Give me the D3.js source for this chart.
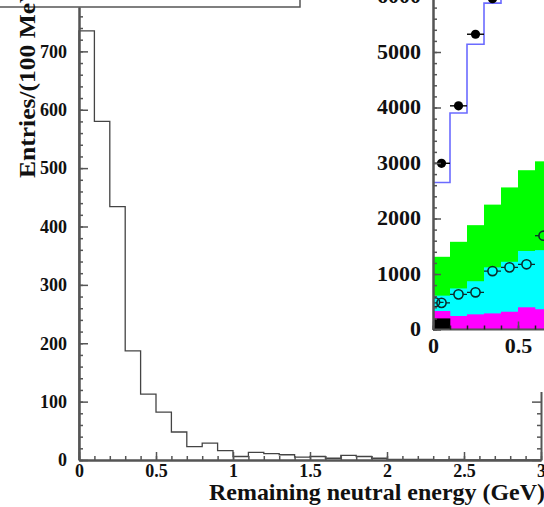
<!DOCTYPE html>
<html>
<head>
<meta charset="utf-8">
<script src="https://d3js.org/d3.v7.min.js"></script>
<style>
  html, body { margin: 0; padding: 0; background: #fff; }
  svg { display: block; }
  text { font-family: "Liberation Serif", "Times New Roman", serif; font-weight: bold; }
</style>
</head>
<body>
<svg id="chart" width="544" height="507"></svg>
<script>
// ---- Main histogram: remaining neutral energy, 0.1 GeV bins from 0 to 3 GeV ----
const mainBinEdges = d3.range(0, 31).map(i => i / 10);
const mainCounts = [735, 580, 434, 187, 113, 82, 48, 23, 29, 16,
                    6, 13, 11, 9, 5, 6, 3, 8, 6, 3,
                    1, 1, 1, 0, 1, 0, 0, 0, 0, 0];
const mainXTicks = [0, 0.5, 1, 1.5, 2, 2.5, 3];
const mainYTicks = [0, 100, 200, 300, 400, 500, 600, 700];

// ---- Inset: stacked components (cumulative tops), 0.1 GeV bins ----
const insetBinEdges = [0, 0.1, 0.2, 0.3, 0.4, 0.5, 0.6, 0.7];
const insetGreen   = [1310, 1580, 1880, 2250, 2560, 2870, 3030];
const insetCyan    = [610, 740, 870, 1120, 1220, 1415, 1430];
const insetMagenta = [333, 243, 273, 290, 320, 400, 365];
const insetBlack   = [200, 10, 10, 10, 10, 10, 10];
const insetBlueLine = [2650, 3900, 5140, 5880, 6400, 6800, 7000];
const dataX = [0.05, 0.15, 0.25, 0.35];
const dataY = [2995, 4030, 5320, 5960];
const openX = [0.012, 0.05, 0.15, 0.25, 0.35, 0.45, 0.55, 0.65];
const openY = [490, 480, 633, 670, 1053, 1120, 1175, 1690];
const insetXTicks = [0, 0.5];
const insetYTicks = [0, 1000, 2000, 3000, 4000, 5000, 6000];

const svg = d3.select("#chart");
const axisColor = "#555";

// Main scales
const x = d3.scaleLinear().domain([0, 3]).range([79, 541]);
const y = d3.scaleLinear().domain([0, 776]).range([460, 7]);

// Box at the top-left corner
svg.append("rect")
  .attr("x", -2).attr("y", -2).attr("width", 302).attr("height", 9)
  .attr("fill", "#fff").attr("stroke", axisColor).attr("stroke-width", 1.5);

// Histogram outline
const histPts = [[0, 0]];
mainCounts.forEach((c, i) => { histPts.push([mainBinEdges[i], c]); });
histPts.push([3, mainCounts[mainCounts.length - 1]]);
histPts.push([3, 0]);
svg.append("path")
  .attr("d", d3.line().x(d => x(d[0])).y(d => y(d[1])).curve(d3.curveStepAfter)(histPts))
  .attr("fill", "none").attr("stroke", "#444").attr("stroke-width", 1.3);

function styleAxis(g, size) {
  g.select(".domain").attr("stroke", axisColor).attr("stroke-width", 2);
  g.selectAll(".tick line").attr("stroke", axisColor).attr("stroke-width", 1.5);
  g.selectAll(".tick text").attr("fill", "#111")
    .attr("font-family", "Liberation Serif, serif").attr("font-weight", "bold").attr("font-size", size);
}

// Main y axis (left), ticks pointing inward
const gyMinor = svg.append("g").attr("transform", `translate(${x(0)},0)`)
  .call(d3.axisLeft(y).tickValues(d3.range(0, 777, 20)).tickSizeInner(-4).tickSizeOuter(0).tickFormat(""));
styleAxis(gyMinor, 18);
const gy = svg.append("g").attr("transform", `translate(${x(0)},0)`)
  .call(d3.axisLeft(y).tickValues(mainYTicks).tickSizeInner(-9).tickSizeOuter(0).tickPadding(12).tickFormat(d3.format("d")));
styleAxis(gy, 18);

// Main right axis
const gyR = svg.append("g").attr("transform", `translate(${x(3)},0)`)
  .call(d3.axisRight(y).tickValues(d3.range(0, 777, 20)).tickSizeInner(-4).tickSizeOuter(0).tickFormat(""));
styleAxis(gyR, 18);
gyR.selectAll(".tick line").filter(d => d % 100 === 0).attr("x2", -9);

// Main x axis (bottom)
const gxMinor = svg.append("g").attr("transform", `translate(0,${y(0)})`)
  .call(d3.axisBottom(x).tickValues(d3.range(0, 31).map(i => i / 10)).tickSizeInner(-4).tickSizeOuter(0).tickFormat(""));
styleAxis(gxMinor, 18);
const gx = svg.append("g").attr("transform", `translate(0,${y(0)})`)
  .call(d3.axisBottom(x).tickValues(mainXTicks).tickSizeInner(-8).tickSizeOuter(0).tickPadding(4).tickFormat(d => String(d)));
styleAxis(gx, 18);

// Axis titles
svg.append("text")
  .attr("x", 209).attr("y", 500)
  .attr("font-size", 22.5).attr("fill", "#111")
  .attr("textLength", 336).attr("lengthAdjust", "spacingAndGlyphs")
  .text("Remaining neutral energy (GeV)");
svg.append("text")
  .attr("transform", "translate(35,178) rotate(-90)")
  .attr("font-size", 22.5).attr("fill", "#111")
  .attr("textLength", 202).attr("lengthAdjust", "spacingAndGlyphs")
  .text("Entries/(100 MeV)");

// ---------------- Inset ----------------
const xi = d3.scaleLinear().domain([0, 1]).range([433, 603]);
const yi = d3.scaleLinear().domain([0, 6000]).range([329.5, -3.5]);

svg.append("rect").attr("x", 362).attr("y", 0).attr("width", 190).attr("height", 392).attr("fill", "#fff");

svg.append("clipPath").attr("id", "insetClip")
  .append("rect").attr("x", xi(0)).attr("y", -10).attr("width", 200).attr("height", yi(0) + 10);
const ins = svg.append("g").attr("clip-path", "url(#insetClip)");

function drawLayer(vals, color) {
  ins.append("g").selectAll("rect").data(vals).join("rect")
    .attr("x", (d, i) => xi(insetBinEdges[i]))
    .attr("width", (d, i) => xi(insetBinEdges[i + 1]) - xi(insetBinEdges[i]) + 0.3)
    .attr("y", d => yi(d))
    .attr("height", d => yi(0) - yi(d))
    .attr("fill", color);
}
drawLayer(insetGreen, "#00ff00");
drawLayer(insetCyan, "#00ffff");
drawLayer(insetMagenta, "#ff00ff");
drawLayer(insetBlack, "#000");

// Expected total (blue outline)
const bluePts = [[0, 0]];
insetBlueLine.forEach((v, i) => bluePts.push([insetBinEdges[i], v]));
bluePts.push([insetBinEdges[insetBinEdges.length - 1], insetBlueLine[insetBlueLine.length - 1]]);
ins.append("path")
  .attr("d", d3.line().x(d => xi(d[0])).y(d => yi(d[1])).curve(d3.curveStepAfter)(bluePts))
  .attr("fill", "none").attr("stroke", "#6b6bff").attr("stroke-width", 1.6);

// Open-circle points with horizontal bin-width bars
const r = 4.6;
const openColor = "#0b2a2a";
openX.forEach((px, i) => {
  const cx = xi(px), cy = yi(openY[i]), hw = xi(0.05) - xi(0);
  ins.append("line").attr("x1", cx - hw).attr("x2", cx - r).attr("y1", cy).attr("y2", cy)
    .attr("stroke", openColor).attr("stroke-width", 1.3);
  ins.append("line").attr("x1", cx + r).attr("x2", cx + hw).attr("y1", cy).attr("y2", cy)
    .attr("stroke", openColor).attr("stroke-width", 1.3);
  ins.append("circle").attr("cx", cx).attr("cy", cy).attr("r", r)
    .attr("fill", "none").attr("stroke", openColor).attr("stroke-width", 1.6);
});

// Filled data points
dataX.forEach((px, i) => {
  const cx = xi(px), cy = yi(dataY[i]), hw = xi(0.05) - xi(0);
  ins.append("line").attr("x1", cx - hw).attr("x2", cx + hw).attr("y1", cy).attr("y2", cy)
    .attr("stroke", "#000").attr("stroke-width", 1.4);
  ins.append("circle").attr("cx", cx).attr("cy", cy).attr("r", r).attr("fill", "#000");
});

// Inset axes (labels slightly wider than the main ones)
const iyMinor = svg.append("g").attr("transform", `translate(${xi(0)},0)`)
  .call(d3.axisLeft(yi).tickValues(d3.range(0, 6001, 200)).tickSizeInner(-4).tickSizeOuter(0).tickFormat(""));
styleAxis(iyMinor, 19);
const iy = svg.append("g").attr("transform", `translate(${xi(0)},0)`)
  .call(d3.axisLeft(yi).tickValues(insetYTicks).tickSizeInner(-8).tickSizeOuter(0).tickPadding(12).tickFormat(d3.format("d")));
styleAxis(iy, 20);
iy.selectAll(".tick text").attr("x", -12 / 1.1).attr("transform", "scale(1.1,1)");
const ixMinor = svg.append("g").attr("transform", `translate(0,${yi(0)})`)
  .call(d3.axisBottom(xi).tickValues(d3.range(0, 7).map(i => i / 10)).tickSizeInner(-4).tickSizeOuter(0).tickFormat(""));
styleAxis(ixMinor, 19);
ixMinor.select(".domain").attr("d", `M${xi(0)},0H544`);
const ix = svg.append("g").attr("transform", `translate(0,${yi(0)})`)
  .call(d3.axisBottom(xi).tickValues(insetXTicks).tickSizeInner(-8).tickSizeOuter(0).tickPadding(9).tickFormat(d => String(d)));
styleAxis(ix, 20);
ix.selectAll(".tick text").attr("transform", "scale(1.1,1)");
ix.select(".domain").remove();
ixMinor.selectAll(".tick line").attr("stroke", "#222");
</script>
</body>
</html>
